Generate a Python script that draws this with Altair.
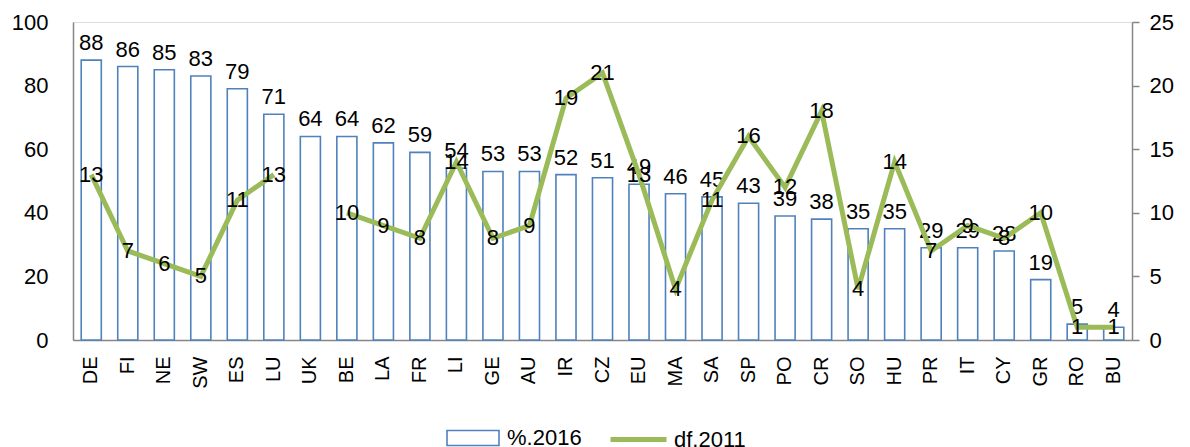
import altair as alt
import pandas as pd

cats = ["DE","FI","NE","SW","ES","LU","UK","BE","LA","FR","LI","GE","AU","IR","CZ",
        "EU","MA","SA","SP","PO","CR","SO","HU","PR","IT","CY","GR","RO","BU"]
pct2016 = [88,86,85,83,79,71,64,64,62,59,54,53,53,52,51,49,46,45,43,39,38,35,35,29,29,28,19,5,4]
df2011 = [13,7,6,5,11,13,None,10,9,8,14,8,9,19,21,13,4,11,16,12,18,4,14,7,9,8,10,1,1]
series_names = ["%.2016", "df.2011"]

data = pd.DataFrame({"cat": cats, "pct": pct2016, "df": df2011})

FONT = "Liberation Sans"
BLUE = "#4F81BD"
GREEN = "#9BBB59"
AXIS_GRAY = "#868686"

x = alt.X("cat:N", sort=cats, title=None,
          scale=alt.Scale(paddingInner=0.45, paddingOuter=0.225),
          axis=alt.Axis(labelAngle=-90, labelAlign="right", labelBaseline="middle",
                        labelFontSize=20, labelColor="black", labelFont=FONT,
                        ticks=False, domainColor=AXIS_GRAY, domainWidth=1.5,
                        labelPadding=16))

yl = alt.Y("pct:Q", title=None,
           scale=alt.Scale(domain=[0, 100]),
           axis=alt.Axis(values=[0, 20, 40, 60, 80, 100], grid=False, ticks=False,
                         labelFontSize=22, labelColor="black", labelFont=FONT,
                         domainColor=AXIS_GRAY, domainWidth=1.5, labelPadding=25))

yr = alt.Y("df:Q", title=None,
           scale=alt.Scale(domain=[0, 25]),
           axis=alt.Axis(orient="right", values=[0, 5, 10, 15, 20, 25], grid=False,
                         ticks=True, tickSize=7, tickColor=AXIS_GRAY, tickWidth=1.5,
                         labelFontSize=22, labelColor="black", labelFont=FONT,
                         domainColor=AXIS_GRAY, domainWidth=1.5, labelPadding=10))

base = alt.Chart(data)

bars = base.transform_calculate(series=f"'{series_names[0]}'").mark_bar(
    fill="white", strokeWidth=1.6).encode(
    x=x, y=yl,
    stroke=alt.Stroke("series:N",
                      scale=alt.Scale(domain=[series_names[0]], range=[BLUE]),
                      legend=alt.Legend(title=None, orient="none", legendX=373, legendY=389,
                                        symbolType="M-1,-0.29L1,-0.29L1,0.29L-1,0.29Z",
                                        symbolSize=2704, symbolFillColor="white",
                                        symbolStrokeWidth=1.6,
                                        labelFontSize=22, labelFont=FONT, labelColor="black",
                                        labelOffset=7)),
)

bar_text = base.mark_text(baseline="bottom", dy=-5, fontSize=22, font=FONT, color="black").encode(
    x=x, y=yl, text=alt.Text("pct:Q"))

line = base.transform_calculate(series=f"'{series_names[1]}'").mark_line(
    strokeWidth=5, invalid="break-paths-show-domains").encode(
    x=x, y=yr,
    color=alt.Color("series:N",
                    scale=alt.Scale(domain=[series_names[1]], range=[GREEN]),
                    legend=alt.Legend(title=None, orient="none", legendX=535, legendY=387,
                                      symbolType="stroke", symbolSize=3136,
                                      symbolStrokeWidth=5,
                                      labelFontSize=22, labelFont=FONT, labelColor="black",
                                      labelOffset=5)),
)

line_text = base.transform_filter("datum.df != null").mark_text(
    baseline="middle", fontSize=22, font=FONT, color="black").encode(
    x=x, y=yr, text=alt.Text("df:Q"))

chart = alt.layer(
    alt.layer(bars, bar_text),
    alt.layer(line, line_text),
).resolve_scale(y="independent").properties(
    width=1059, height=318,
    autosize=alt.AutoSizeParams(type="none"),
    padding={"left": 65, "top": 14, "right": 50, "bottom": 118},
).configure_view(stroke=None).configure(font=FONT)

chart.save("out.html", embed_options={"renderer": "svg", "actions": False})
